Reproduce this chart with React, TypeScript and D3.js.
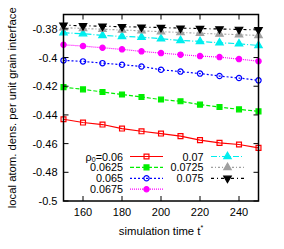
import React, { useRef, useEffect } from "react";
import * as d3 from "d3";

// simulation times
const times = [150, 160, 170, 180, 190, 200, 210, 220, 230, 240, 250];

// local atomic density per unit grain interface, one array per rho_0
const rho0600 = [-0.443, -0.4453, -0.4467, -0.4495, -0.4514, -0.453, -0.4548, -0.4576, -0.4595, -0.4606, -0.463];
const rho0625 = [-0.4206, -0.4222, -0.424, -0.4258, -0.4275, -0.4293, -0.4305, -0.4328, -0.4345, -0.4361, -0.4375];
const rho0650 = [-0.402, -0.4027, -0.4039, -0.405, -0.4062, -0.4085, -0.4098, -0.4112, -0.4129, -0.4143, -0.4159];
const rho0675 = [-0.3911, -0.392, -0.3932, -0.3943, -0.3957, -0.3969, -0.398, -0.399, -0.3997, -0.4011, -0.4025];
const rho0700 = [-0.3827, -0.3834, -0.3846, -0.3853, -0.3858, -0.3869, -0.3881, -0.3888, -0.3897, -0.3904, -0.3916];
const rho0725 = [-0.3792, -0.3797, -0.3803, -0.3808, -0.3814, -0.382, -0.3825, -0.3831, -0.3836, -0.3841, -0.3846];
const rho0750 = [-0.3775, -0.3778, -0.3782, -0.3785, -0.3788, -0.3791, -0.3795, -0.3798, -0.3801, -0.3804, -0.3807];

const legendLabels = ["0.06", "0.0625", "0.065", "0.0675", "0.07", "0.0725", "0.075"];
const xTicks = [160, 180, 200, 220, 240];
const yTicks = [-0.5, -0.48, -0.46, -0.44, -0.42, -0.4, -0.38];

const styles = [
  { color: "#ff0000", dash: null, shape: "square", filled: false },
  { color: "#00ee00", dash: "4,2", shape: "square", filled: true },
  { color: "#0000ff", dash: "2,2", shape: "circle", filled: false },
  { color: "#ff00ff", dash: "1,1", shape: "circle", filled: true },
  { color: "#00eeee", dash: "6,2,1,2", shape: "up", filled: true },
  { color: "#a0a0a0", dash: "2,2,1,2", shape: "up", filled: true },
  { color: "#000000", dash: "3,3,1,3", shape: "down", filled: true },
];

const FONT = "Liberation Sans, Arial, Helvetica, sans-serif";

const App = () => {
  const svgRef = useRef(null);

  useEffect(() => {
    const left = 63.5,
      right = 258.5,
      top = 14.5,
      bottom = 201;

    const svg = d3.select(svgRef.current);
    svg.selectAll("*").remove();

    const x = d3.scaleLinear().domain([150, 250]).range([left, right]);
    const y = d3.scaleLinear().domain([-0.5, -0.37]).range([bottom, top]);

    const allSeries = [rho0600, rho0625, rho0650, rho0675, rho0700, rho0725, rho0750];

    const symbolPath = (shape) => {
      if (shape === "square") return d3.symbol(d3.symbolSquare, 24)();
      if (shape === "circle") return d3.symbol(d3.symbolCircle, 22)();
      return d3.symbol(d3.symbolTriangle, 24)();
    };

    const drawMarker = (g, cx, cy, st) => {
      g.append("path")
        .attr("d", symbolPath(st.shape))
        .attr(
          "transform",
          `translate(${cx},${cy})` + (st.shape === "down" ? " rotate(180)" : "")
        )
        .attr("fill", st.filled ? st.color : "none")
        .attr("stroke", st.color)
        .attr("stroke-width", 1.2);
    };

    const line = d3
      .line()
      .x((d) => x(d[0]))
      .y((d) => y(d[1]));

    const plot = svg.append("g");
    allSeries.forEach((vals, i) => {
      const st = styles[i];
      const pts = times.map((t, j) => [t, vals[j]]);
      plot
        .append("path")
        .attr("d", line(pts))
        .attr("fill", "none")
        .attr("stroke", st.color)
        .attr("stroke-width", 1.2)
        .attr("stroke-dasharray", st.dash);
      pts.forEach((p) => drawMarker(plot, x(p[0]), y(p[1]), st));
    });

    // frame and ticks
    const axes = svg.append("g");
    axes
      .append("rect")
      .attr("x", left)
      .attr("y", top)
      .attr("width", right - left)
      .attr("height", bottom - top)
      .attr("fill", "none")
      .attr("stroke", "#000")
      .attr("stroke-width", 1.5);

    xTicks.forEach((t) => {
      axes.append("line").attr("x1", x(t)).attr("x2", x(t)).attr("y1", bottom).attr("y2", bottom - 5).attr("stroke", "#000");
      axes.append("line").attr("x1", x(t)).attr("x2", x(t)).attr("y1", top).attr("y2", top + 5).attr("stroke", "#000");
      axes
        .append("text")
        .attr("x", x(t))
        .attr("y", bottom + 15)
        .attr("text-anchor", "middle")
        .attr("font-family", FONT)
        .attr("font-size", 11)
        .text(t);
    });

    yTicks.forEach((t) => {
      axes.append("line").attr("x1", left).attr("x2", left + 5).attr("y1", y(t)).attr("y2", y(t)).attr("stroke", "#000");
      axes.append("line").attr("x1", right).attr("x2", right - 5).attr("y1", y(t)).attr("y2", y(t)).attr("stroke", "#000");
      axes
        .append("text")
        .attr("x", left - 6)
        .attr("y", y(t) + 4)
        .attr("text-anchor", "end")
        .attr("font-family", FONT)
        .attr("font-size", 11)
        .text(String(t));
    });

    // axis titles
    const xl = axes
      .append("text")
      .attr("x", (left + right) / 2)
      .attr("y", 235)
      .attr("text-anchor", "middle")
      .attr("font-family", FONT)
      .attr("font-size", 11.3)
      .text("simulation time t");
    xl.append("tspan").attr("dy", -5).attr("font-size", 7).text("*");

    axes
      .append("text")
      .attr("transform", `translate(16,${(top + bottom) / 2}) rotate(-90)`)
      .attr("text-anchor", "middle")
      .attr("font-family", FONT)
      .attr("font-size", 11.3)
      .text("local atom. dens. per unit grain interface");

    // legend
    const legend = svg.append("g");
    legendLabels.forEach((lab, i) => {
      const col = i < 4 ? 0 : 1;
      const row = i < 4 ? i : i - 4;
      const textX = col === 0 ? 123 : 203.5;
      const lx0 = col === 0 ? 130 : 211;
      const lx1 = col === 0 ? 163 : 244;
      const ly = 156.5 + row * 10.9;
      const st = styles[i];
      const txt = legend
        .append("text")
        .attr("x", textX)
        .attr("y", ly + 4)
        .attr("text-anchor", "end")
        .attr("font-family", FONT)
        .attr("font-size", 10.8);
      if (i === 0) {
        txt.append("tspan").text("ρ");
        txt.append("tspan").attr("dy", 1.5).attr("font-size", 7).text("0");
        txt.append("tspan").attr("dy", -1.5).text("=" + lab);
      } else {
        txt.text(lab);
      }
      legend
        .append("line")
        .attr("x1", lx0)
        .attr("x2", lx1)
        .attr("y1", ly)
        .attr("y2", ly)
        .attr("stroke", st.color)
        .attr("stroke-width", 1.2)
        .attr("stroke-dasharray", st.dash);
      drawMarker(legend, (lx0 + lx1) / 2, ly, st);
    });
  }, []);

  return (
    <svg
      ref={svgRef}
      width={284}
      height={249}
      style={{ position: "absolute", left: 0, top: 0, background: "#fff" }}
    ></svg>
  );
};

export default App;
